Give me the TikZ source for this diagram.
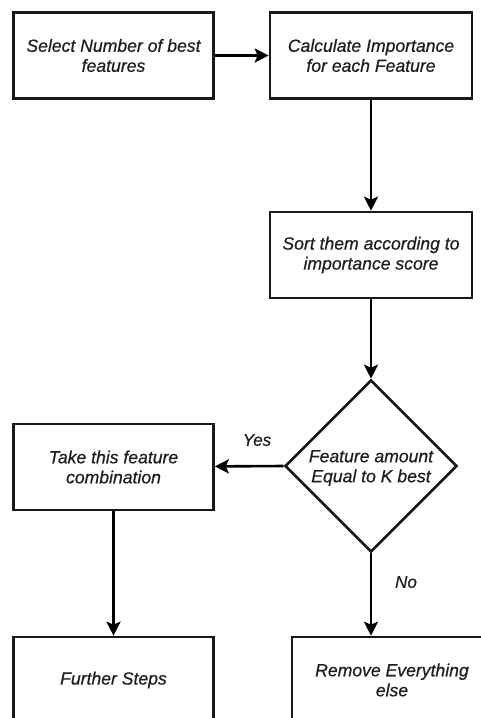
\documentclass[tikz,border=0pt]{standalone}
\usepackage{fontspec}
\setmainfont{Liberation Sans}[ItalicFeatures={FakeBold=0.6}]
\usetikzlibrary{shapes.geometric,arrows.meta}
\begin{document}
\begin{tikzpicture}[x=1pt,y=-1pt,
  every node/.style={font=\fontsize{17.6}{20}\selectfont\itshape, text=black!88},
  box/.style={draw=black!90, line width=2.6pt, minimum width=200pt, minimum height=86pt, align=center, inner sep=0pt},
  dec/.style={draw=black!90, line width=2.6pt, diamond, minimum width=172pt, minimum height=172pt, aspect=1, align=center, inner sep=0pt},
  conn/.style={draw=black, line width=2.6pt, -{Stealth[length=14pt,width=14pt,inset=3pt]}},
  lbl/.style={font=\fontsize{17}{20}\selectfont\itshape}]
\useasboundingbox (0,0) rectangle (481,718);
\clip (0,0) rectangle (481,718);
\node[box] (b1) at (113.5,55.5) {Select Number of best\\features};
\node[box, minimum width=202pt] (b2) at (371,55.5) {Calculate Importance\\for each Feature};
\node[box, minimum width=202pt] (b3) at (371,255) {Sort them according to\\importance score};
\node[dec] (d) at (371,466) {};
\node[align=center] (dt) at (371,468) {Feature amount\\Equal to K best};
\node[box] (b4) at (113.5,467) {Take this feature\\combination};
\node[box] (b5) at (113.5,680) {Further Steps};
\node[box] (b6) at (392,680) {Remove Everything\\else};
\draw[conn] (b1) -- (b2);
\draw[conn] (b2) -- (b3);
\draw[conn] (b3) -- (d.north);
\draw[conn] (d.west) -- (b4);
\draw[conn] (b4.south) -- (b5.north);
\draw[conn] (d.south) -- (d.south |- b6.north);
\node[lbl] (yes) at (257,440) {Yes};
\node[lbl] (no) at (406,582) {No};
\end{tikzpicture}
\end{document}
